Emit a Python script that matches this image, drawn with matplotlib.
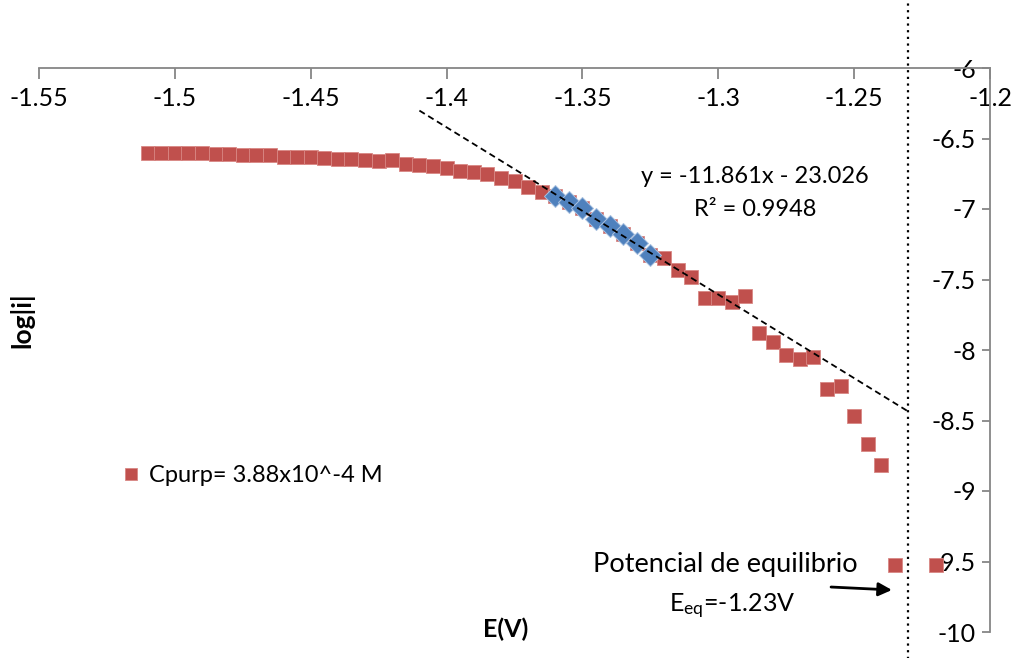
import matplotlib
matplotlib.use("Agg")
import matplotlib.pyplot as plt
import numpy as np

# Potential (V) and log|i| for the full polarisation curve
potential = [-1.510, -1.505, -1.500, -1.495, -1.490, -1.485, -1.480, -1.475, -1.470, -1.465,
             -1.460, -1.455, -1.450, -1.445, -1.440, -1.435, -1.430, -1.425, -1.420, -1.415,
             -1.410, -1.405, -1.400, -1.395, -1.390, -1.385, -1.380, -1.375, -1.370, -1.365,
             -1.360, -1.355, -1.350, -1.345, -1.340, -1.335, -1.330, -1.325,
             -1.320, -1.315, -1.310, -1.305, -1.300, -1.295, -1.290, -1.285, -1.280, -1.275,
             -1.270, -1.265, -1.260, -1.255, -1.250, -1.245, -1.240, -1.235, -1.220]
log_i = [-6.601, -6.605, -6.605, -6.605, -6.605, -6.612, -6.612, -6.615, -6.615, -6.617,
         -6.629, -6.632, -6.634, -6.639, -6.644, -6.646, -6.653, -6.660, -6.655, -6.681,
         -6.686, -6.693, -6.712, -6.729, -6.738, -6.754, -6.781, -6.800, -6.842, -6.878,
         -6.905, -6.950, -6.990, -7.072, -7.118, -7.178, -7.238, -7.324,
         -7.351, -7.434, -7.481, -7.630, -7.634, -7.659, -7.616, -7.876, -7.942, -8.032,
         -8.063, -8.049, -8.280, -8.257, -8.470, -8.669, -8.818, -9.522, -9.527]

# Tafel region used for the linear fit
tafel_potential = [-1.360, -1.355, -1.350, -1.345, -1.340, -1.335, -1.330, -1.325]
tafel_log_i = [-6.905, -6.950, -6.990, -7.072, -7.118, -7.178, -7.238, -7.324]

slope, intercept, r2 = -11.861, -23.026, 0.9948
fit_range = [-1.41, -1.23]
e_eq = -1.23

x_ticks = [-1.55, -1.5, -1.45, -1.4, -1.35, -1.3, -1.25, -1.2]
y_ticks = [-10, -9.5, -9, -8.5, -8, -7.5, -7, -6.5, -6]

RED = "#C0504D"
BLUE = "#4F81BD"
GRAY = "#868686"
FONT = "Lato"

plt.rcParams["font.family"] = [FONT, "DejaVu Sans"]
plt.rcParams["mathtext.fontset"] = "custom"
plt.rcParams["mathtext.rm"] = FONT

fig = plt.figure(figsize=(10.11, 6.58), dpi=100)
ax = fig.add_axes([39 / 1011, 1 - 632 / 658, 951 / 1011, 564 / 658])
ax.set_xlim(-1.55, -1.2)
ax.set_ylim(-10, -6)

# axes cross at the top-right corner
for side in ("top", "right"):
    ax.spines[side].set_visible(False)
ax.spines["bottom"].set_position(("data", -6))
ax.spines["left"].set_position(("data", -1.2))
for side in ("bottom", "left"):
    ax.spines[side].set_color(GRAY)
    ax.spines[side].set_linewidth(1.3)

ax.set_xticks(x_ticks)
ax.set_xticklabels([f"{v:g}" for v in x_ticks])
ax.set_yticks(y_ticks)
ax.set_yticklabels([f"{v:g}" for v in y_ticks])
ax.tick_params(axis="x", direction="out", length=8, width=1.3, color=GRAY,
               labelsize=18, pad=6)
ax.tick_params(axis="y", direction="out", length=6, width=1.3, color=GRAY,
               labelsize=18, pad=4)

# main curve and Tafel points
red_line, = ax.plot(potential, log_i, linestyle="none", marker="s", markersize=9.5,
                    color=RED, markeredgecolor="#D88784", markeredgewidth=0.6,
                    clip_on=False, zorder=3)
ax.plot(tafel_potential, tafel_log_i, linestyle="none", marker="D", markersize=11.5,
        color=BLUE, markeredgecolor="#A9C1E0", markeredgewidth=0.7, zorder=4)

# linear fit
fx = np.array(fit_range)
ax.plot(fx, slope * fx + intercept, linestyle=(0, (3.5, 2.2)), color="black",
        linewidth=1.3, zorder=5)

# equilibrium potential
ax.axvline(e_eq, ymin=-0.05, ymax=1.125, color="black", linestyle=(0, (1, 2)),
           linewidth=1.6, clip_on=False, zorder=2)

ax.text(0.753, 0.807, f"y = {slope}x - {abs(intercept)}", transform=ax.transAxes,
        ha="center", va="center", fontsize=17)
ax.text(0.753, 0.750, f"R² = {r2}", transform=ax.transAxes,
        ha="center", va="center", fontsize=17)

ax.text(0.722, 0.119, "Potencial de equilibrio", transform=ax.transAxes,
        ha="center", va="center", fontsize=19.5)
ax.text(0.729, 0.046, r"$\mathregular{E_{eq}}$=-1.23V", transform=ax.transAxes,
        ha="center", va="center", fontsize=18)
ax.annotate("", xy=(-1.2361, -9.702), xytext=(-1.2585, -9.681),
            arrowprops=dict(arrowstyle="-|>", color="black", lw=2,
                            mutation_scale=20, shrinkA=0, shrinkB=0))

ax.text(0.491, 0.004, "E(V)", transform=ax.transAxes, ha="center", va="center",
        fontsize=18, fontweight="bold")
ax.text(-0.018, 0.553, "log|i|", transform=ax.transAxes, ha="center", va="center",
        fontsize=19, fontweight="bold", rotation=90)

ax.legend([red_line], ["Cpurp= 3.88x10^-4 M"], loc="center left",
          bbox_to_anchor=(0.064, 0.2766), frameon=False, fontsize=17,
          handlelength=0.8, handletextpad=0.4, markerscale=0.9)

fig.savefig("out.png", dpi=100)
